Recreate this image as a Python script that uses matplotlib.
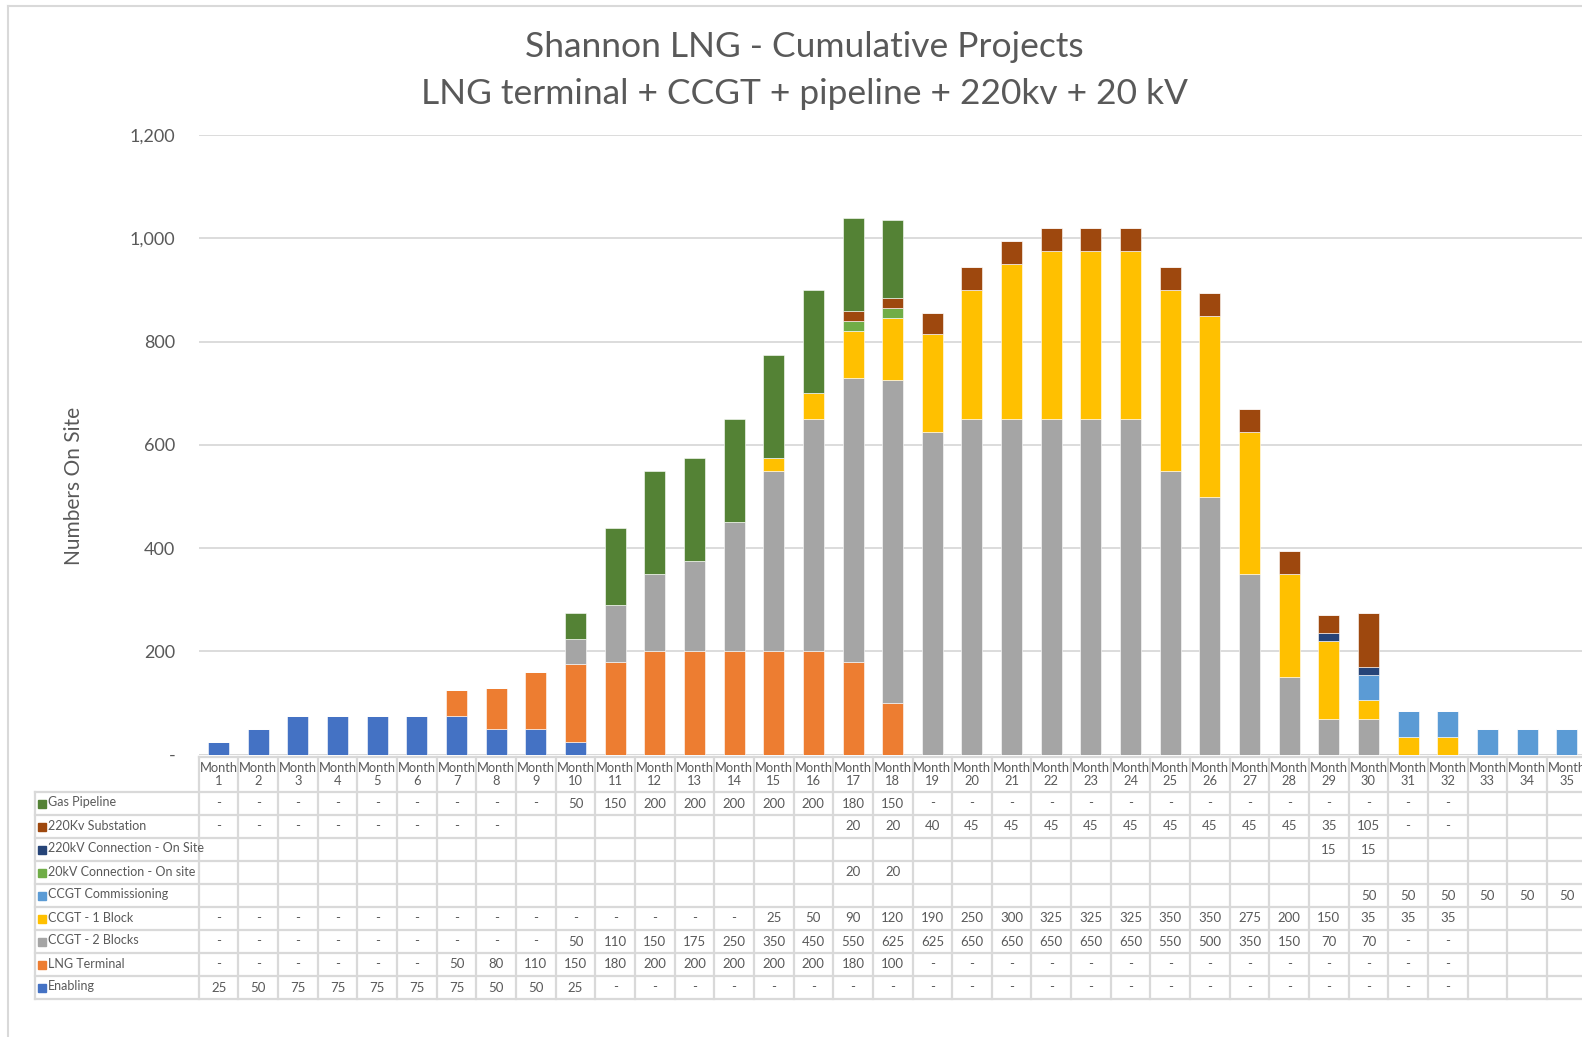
import numpy as np
import matplotlib
matplotlib.use("Agg")
import matplotlib.pyplot as plt
from matplotlib.patches import Rectangle
from matplotlib.lines import Line2D

plt.rcParams['font.family'] = ['Lato', 'DejaVu Sans']

############# Datos ################
# None = celda vacia en la tabla, 0 = "-"
months = ["Month\n%d" % i for i in range(1, 36)]

enabling = [25, 50, 75, 75, 75, 75, 75, 50, 50, 25] + [0] * 22 + [None] * 3
lng = [0] * 6 + [50, 80, 110, 150, 180, 200, 200, 200, 200, 200, 180, 100] + [0] * 14 + [None] * 3
ccgt2 = [0] * 9 + [50, 110, 150, 175, 250, 350, 450, 550, 625, 625, 650, 650, 650, 650, 650,
                   550, 500, 350, 150, 70, 70] + [0, 0] + [None] * 3
ccgt1 = [0] * 14 + [25, 50, 90, 120, 190, 250, 300, 325, 325, 325, 350, 350, 275, 200, 150,
                    35, 35, 35] + [None] * 3
commissioning = [None] * 29 + [50, 50, 50, 50, 50, 50]
kv20 = [None] * 16 + [20, 20] + [None] * 17
kv220_conn = [None] * 28 + [15, 15] + [None] * 5
substation = [0] * 8 + [None] * 8 + [20, 20, 40, 45, 45, 45, 45, 45, 45, 45, 45, 45, 35, 105] + [0, 0] + [None] * 3
gas = [0] * 9 + [50, 150, 200, 200, 200, 200, 200, 180, 150] + [0] * 14 + [None] * 3

# orden de apilado (de abajo hacia arriba)
series = [
    ("Enabling", enabling, "#4472C4"),
    ("LNG Terminal", lng, "#ED7D31"),
    ("CCGT - 2 Blocks", ccgt2, "#A5A5A5"),
    ("CCGT - 1 Block", ccgt1, "#FFC000"),
    ("CCGT Commissioning", commissioning, "#5B9BD5"),
    ("20kV Connection - On site", kv20, "#70AD47"),
    ("220kV Connection - On Site", kv220_conn, "#264478"),
    ("220Kv Substation", substation, "#9E480E"),
    ("Gas Pipeline", gas, "#548235"),
]

yticks = [0, 200, 400, 600, 800, 1000, 1200]
ytick_labels = ["-", "200", "400", "600", "800", "1,000", "1,200"]

############# Figura ################
W, H = 1582, 1037
fig = plt.figure(figsize=(W / 100, H / 100), dpi=100)

# medidas en pixeles
x0 = 198.8      # inicio de la primera columna
colw = 39.65    # ancho de columna
y_zero = 754.7
y_top = 135.2

ax = fig.add_axes([x0 / W, 1 - y_zero / H, 35 * colw / W, (y_zero - y_top) / H])

x = np.arange(35)
bottom = np.zeros(35)
for name, vals, col in series:
    v = np.array([0 if a is None else a for a in vals], dtype=float)
    ax.bar(x, v, width=0.53, bottom=bottom, color=col, edgecolor="white", linewidth=0.4, zorder=3)
    bottom += v

ax.set_xlim(-0.5, 34.5)
ax.set_ylim(0, 1200)
ax.set_yticks(yticks)
ax.set_yticklabels(ytick_labels, fontsize=13, color="#595959")
ax.tick_params(axis="y", length=0, pad=17)
ax.set_xticks([])
ax.grid(axis="y", color="#d9d9d9", linewidth=1.3, zorder=0)
for s in ax.spines.values():
    s.set_visible(False)
ax.axhline(0, color="#d9d9d9", linewidth=1.3, zorder=2)
ax.set_ylabel("Numbers On Site", fontsize=15, color="#595959")
ax.yaxis.set_label_coords((84 - x0) / (35 * colw), (y_zero - 486) / (y_zero - y_top))

fig.text(804 / W, 1 - 47 / H, "Shannon LNG - Cumulative Projects", ha="center", va="center",
         fontsize=25.5, color="#595959")
fig.text(804 / W, 1 - 94 / H, "LNG terminal + CCGT + pipeline + 220kv + 20 kV", ha="center", va="center",
         fontsize=25.5, color="#595959")

############# Tabla de datos ################
t_top = 757
head_h = 35
row_h = 23
t_bot = t_top + head_h + 9 * row_h
tax = fig.add_axes([x0 / W, 1 - t_bot / H, 35 * colw / W, (t_bot - t_top) / H])
tax.set_xlim(-0.5, 34.5)
tax.set_ylim(t_bot - t_top, 0)
tax.axis("off")

left_x = -0.5 - (x0 - 35.3) / colw
gc = "#d9d9d9"

# lineas horizontales
tax.plot([-0.5, 34.5], [0, 0], color=gc, lw=1.6, clip_on=False)
for i in range(10):
    yy = head_h + i * row_h
    tax.plot([left_x, 34.5], [yy, yy], color=gc, lw=1.6, clip_on=False)
# lineas verticales
for k in range(36):
    tax.plot([-0.5 + k, -0.5 + k], [0, t_bot - t_top], color=gc, lw=1.6, clip_on=False)
tax.plot([left_x, left_x], [head_h, t_bot - t_top], color=gc, lw=1.6, clip_on=False)

# cabecera
for i, m in enumerate(months):
    tax.text(i, head_h / 2, m, ha="center", va="center", fontsize=9.3, color="#595959",
             linespacing=1.05, clip_on=False)

# filas (de arriba hacia abajo)
for r, (name, vals, col) in enumerate(series[::-1]):
    yc = head_h + r * row_h + row_h / 2
    tax.add_patch(Rectangle((left_x + 0.08, yc - 4), 0.2, 8, color=col, clip_on=False))
    tax.text(left_x + 0.32, yc - 1, name, ha="left", va="center", fontsize=9, color="#595959",
             clip_on=False)
    for i, v in enumerate(vals):
        if v is None:
            continue
        txt = "-" if v == 0 else str(v)
        tax.text(i, yc, txt, ha="center", va="center", fontsize=9.5, color="#595959", clip_on=False)

# borde del grafico
fig.add_artist(Line2D([8 / W, 8 / W], [1 - 6 / H, 0.0], color=gc, lw=1.5))
fig.add_artist(Line2D([8 / W, 1.0], [1 - 6 / H, 1 - 6 / H], color=gc, lw=1.5))

fig.savefig("out.png", dpi=100)
